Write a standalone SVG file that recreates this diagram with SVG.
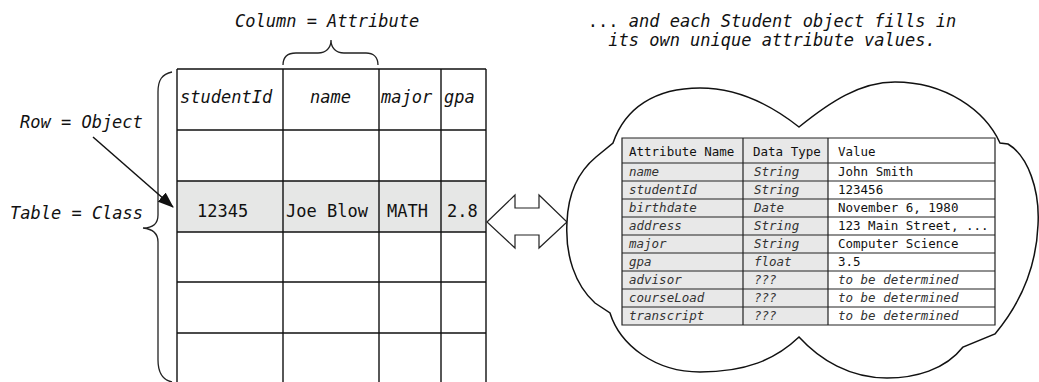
<svg xmlns="http://www.w3.org/2000/svg" width="1039" height="382" viewBox="0 0 1039 382">
<defs>
<style>
.t{font-family:"DejaVu Sans Mono","Liberation Mono",monospace;font-size:17px;fill:#111}
.i{font-style:italic}
.s{font-family:"DejaVu Sans Mono","Liberation Mono",monospace;font-size:12.5px;fill:#111}
.si{font-family:"DejaVu Sans Mono","Liberation Mono",monospace;font-size:12.5px;fill:#333;font-style:italic}
.grid{stroke:#111;stroke-width:1.4;fill:none}
.ig{stroke:#222;stroke-width:1.2;fill:none}
.br{stroke:#222;stroke-width:1.3;fill:none}
</style>
<marker id="ah" markerWidth="16" markerHeight="12" refX="15" refY="6" orient="auto" markerUnits="userSpaceOnUse">
<path d="M0,0 L16,6 L0,12 Z" fill="#111"/>
</marker>
</defs>
<rect width="1039" height="382" fill="#fff"/>

<g id="labels">
<text class="t i" x="235" y="27">Column = Attribute</text>
<text class="t i" x="20" y="128">Row = Object</text>
<text class="t i" x="10" y="219">Table = Class</text>
<text class="t" x="772" y="27" text-anchor="middle">... <tspan class="i">and each Student object fills in</tspan></text>
<text class="t i" x="772" y="46" text-anchor="middle">its own unique attribute values.</text>
</g>

<g id="braces">
<path class="br" d="M283,65 C283,57 288,53 296,53 L318,53 C326,53 331,48 331,40 C331,48 336,53 344,53 L366,53 C373,53 378,57 378,65"/>
<path class="br" d="M172,72 C162,74 158,80 158,92 L158,215 C158,224 153,228 143,228 C153,229 158,233 158,242 L158,360 C158,372 163,380 172,382"/>
</g>

<g id="table">
<rect x="177" y="181" width="309" height="51" fill="#e6e7e6"/>
<path class="grid" d="M177,69 H486 M177,130 H486 M177,181 H486 M177,232 H486 M177,282 H486 M177,333 H486 M177,69 V382 M283,69 V382 M379,69 V382 M441,69 V382 M486,69 V382"/>
<text class="t i" x="180" y="103">studentId</text>
<text class="t i" x="310" y="103">name</text>
<text class="t i" x="381" y="103">major</text>
<text class="t i" x="444" y="103">gpa</text>
<text class="t" x="197" y="217">12345</text>
<text class="t" x="286" y="217">Joe Blow</text>
<text class="t" x="387" y="217">MATH</text>
<text class="t" x="447" y="217">2.8</text>
</g>

<g id="connectors">
<line x1="93" y1="137" x2="173" y2="207" stroke="#111" stroke-width="1.5" marker-end="url(#ah)"/>
<polygon points="487,222 515,195 515,208 539,208 539,195 567,222 539,248 539,235 515,235 515,248" fill="#fff" stroke="#222" stroke-width="1.2"/>
</g>

<g id="cloud">
<path d="M613,143 C625,108 655,88 700,88 C740,88 775,108 799,127 C830,102 860,82 895,82 C945,82 985,110 1000,143 L1008,144 C1028,156 1040,190 1038,225 C1036,275 1015,310 995,334 L963,347 C945,370 915,378 887,378 C850,378 820,360 799,337 C775,360 745,372 700,372 C655,372 620,345 610,313 L595,303 C575,285 565,255 567,222 C568,195 578,172 596,157 Z" fill="#fff" stroke="#111" stroke-width="1.5"/>
</g>

<g id="attrTable">
<rect x="622" y="138" width="206" height="187" fill="#e8e8e8"/>
<path class="ig" d="M622,138 H995 V325 H622 Z M743,138 V325 M828,138 V325 M622,163 H995 M622,181 H995 M622,199 H995 M622,217 H995 M622,235 H995 M622,253 H995 M622,271 H995 M622,289 H995 M622,307 H995"/>
<text class="s" x="629" y="156">Attribute Name</text>
<text class="s" x="753" y="156">Data Type</text>
<text class="s" x="838" y="156">Value</text>
<text class="si" x="629" y="176">name</text><text class="si" x="754" y="176">String</text><text class="s" x="838" y="176">John Smith</text>
<text class="si" x="629" y="194">studentId</text><text class="si" x="754" y="194">String</text><text class="s" x="838" y="194">123456</text>
<text class="si" x="629" y="212">birthdate</text><text class="si" x="754" y="212">Date</text><text class="s" x="838" y="212">November 6, 1980</text>
<text class="si" x="629" y="230">address</text><text class="si" x="754" y="230">String</text><text class="s" x="838" y="230">123 Main Street, ...</text>
<text class="si" x="629" y="248">major</text><text class="si" x="754" y="248">String</text><text class="s" x="838" y="248">Computer Science</text>
<text class="si" x="629" y="266">gpa</text><text class="si" x="754" y="266">float</text><text class="s" x="838" y="266">3.5</text>
<text class="si" x="629" y="284">advisor</text><text class="si" x="754" y="284">???</text><text class="si" x="838" y="284">to be determined</text>
<text class="si" x="629" y="302">courseLoad</text><text class="si" x="754" y="302">???</text><text class="si" x="838" y="302">to be determined</text>
<text class="si" x="629" y="320">transcript</text><text class="si" x="754" y="320">???</text><text class="si" x="838" y="320">to be determined</text>
</g>
</svg>
